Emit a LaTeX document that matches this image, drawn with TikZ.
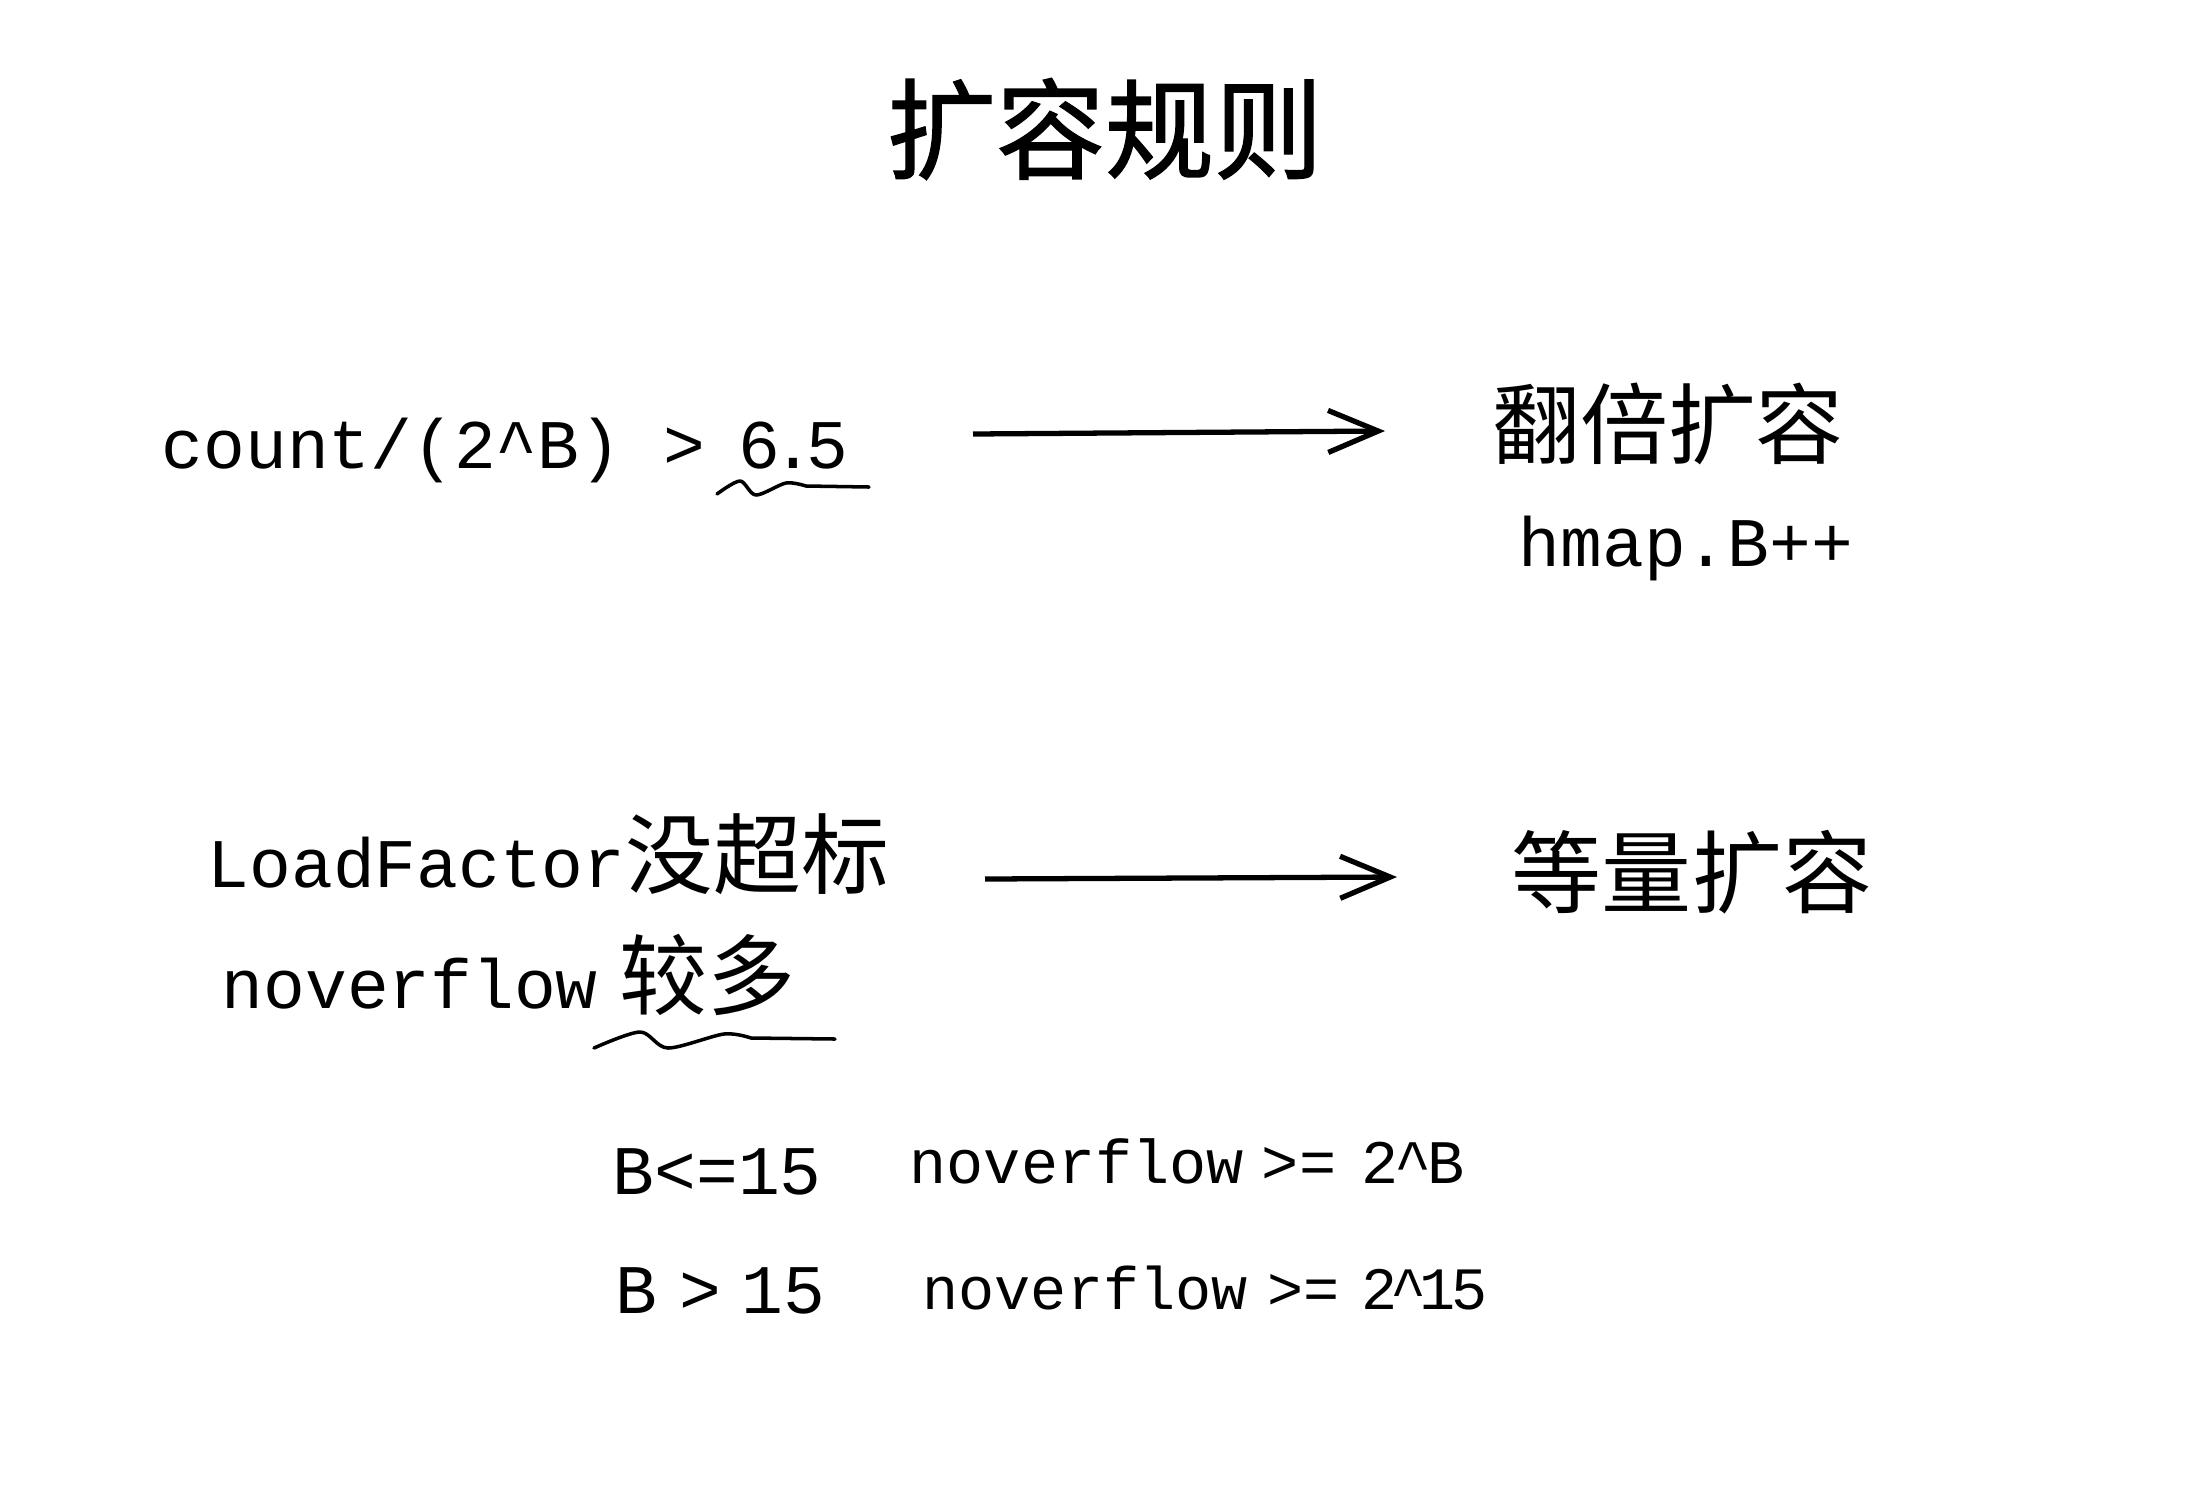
\documentclass[tikz,border=0pt]{standalone}
\usepackage{fontspec}
\setmonofont{Liberation Mono}
\newfontfamily\cjk{Noto Sans CJK SC}
\newfontfamily\cjkbold[FakeBold=1.2]{Noto Sans CJK SC}
\usetikzlibrary{arrows.meta, positioning}

\begin{document}
\begin{tikzpicture}[
        x=0.01cm, y=-0.01cm,
        title/.style={inner sep=0pt, font=\cjkbold\fontsize{31}{36}\selectfont},
        cjklabel/.style={inner sep=0pt, font=\cjk\fontsize{25}{30}\selectfont},
        code/.style={inner sep=0pt, anchor=base west, font=\ttfamily\fontsize{19.8}{24}\selectfont},
        smallcode/.style={code, font=\ttfamily\fontsize{17.6}{22}\selectfont},
        arrow/.style={-{Straight Barb[length=0.5cm, width=0.42cm]}, line width=1.5pt},
        squiggle/.style={line width=1pt, line cap=round, line join=round}
    ]
        \useasboundingbox (0,0) rectangle (2190,1502);

        \node[title] (rules) at (1105,129) {扩容规则};

        % doubling
        \node[code] (cnt) at (161,468) {count/(2\string^B) >\hspace{0.34cm}6\kern-0.08cm.\kern-0.08cm5};
        \node[cjklabel] (dbl) at (1668,424) {翻倍扩容};
        \node[code] (incr) at (1518,566) {hmap.B++};
        \coordinate (a1) at (973,434);
        \coordinate (b1) at (1385,431);
        \draw[arrow] (a1) -- (b1);
        \draw[squiggle] plot[smooth] coordinates {(717,494) (740,481) (756,495) (786,483) (806,486)} -- (869,487);

        % same size
        \node[code] (lf) at (207,887) {LoadFactor{\cjk\fontsize{25}{30}\selectfont 没超标}};
        \node[code] (nov) at (221,1008) {noverflow\hspace{0.22cm}{\cjk\fontsize{25}{30}\selectfont 较多}};
        \node[cjklabel, font=\cjk\fontsize{25.6}{30}\selectfont] (same) at (1692,872) {等量扩容};
        \coordinate (a2) at (985,879);
        \coordinate (b2) at (1397,877);
        \draw[arrow] (a2) -- (b2);
        \draw[squiggle] plot[smooth] coordinates {(594,1048) (640,1032) (668,1048) (724,1034) (751,1038)} -- (835,1039);

        % thresholds
        \node[code] (le) at (612,1194) {B<=15};
        \node[smallcode] (c1) at (909,1183) {noverflow\hspace{0.18cm}>=\hspace{0.25cm}2\kern-0.04cm\string^\kern-0.04cm B};
        \node[code] (gt) at (615,1313) {B\hspace{0.22cm}>\hspace{0.2cm}15};
        \node[smallcode, font=\ttfamily\fontsize{17.1}{22}\selectfont] (c2) at (922,1309) {noverflow\hspace{0.2cm}>=\hspace{0.22cm}2\kern-0.07cm\string^\kern-0.07cm 1\kern-0.04cm 5};
\end{tikzpicture}
\end{document}
